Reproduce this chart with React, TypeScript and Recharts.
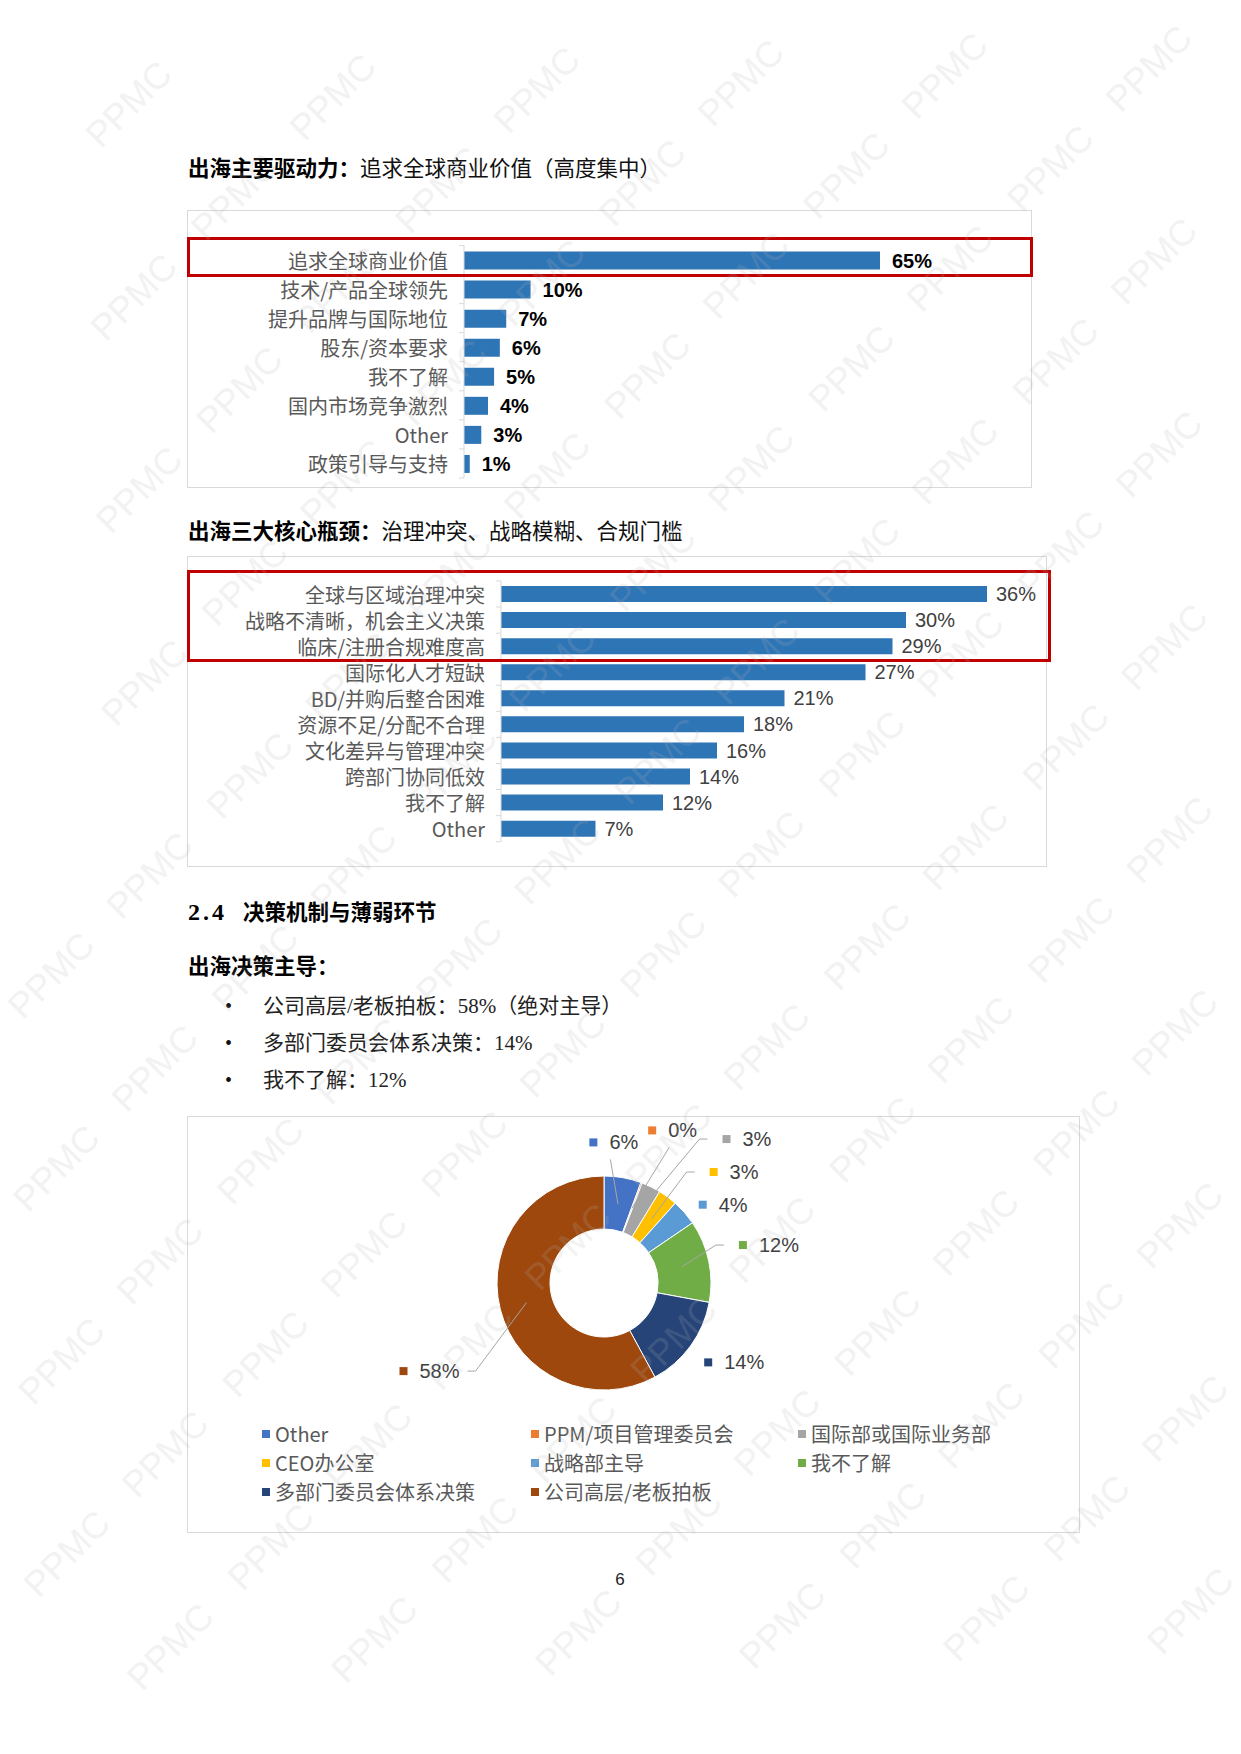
import React from 'react';
import { BarChart, Bar, XAxis, YAxis, LabelList, PieChart, Pie, Cell, Legend } from 'recharts';

// ---------- data ----------
const driverCategories = ['追求全球商业价值', '技术/产品全球领先', '提升品牌与国际地位', '股东/资本要求', '我不了解', '国内市场竞争激烈', 'Other', '政策引导与支持'];
const driverValues = [65, 10.4, 6.6, 5.6, 4.7, 3.75, 2.7, 0.9];

const bottleneckCategories = ['全球与区域治理冲突', '战略不清晰，机会主义决策', '临床/注册合规难度高', '国际化人才短缺', 'BD/并购后整合困难', '资源不足/分配不合理', '文化差异与管理冲突', '跨部门协同低效', '我不了解', 'Other'];
const bottleneckValues = [36, 30, 29, 27, 21, 18, 16, 14, 12, 7];

const deciderCategories = ['Other', 'PPM/项目管理委员会', '国际部或国际业务部', 'CEO办公室', '战略部主导', '我不了解', '多部门委员会体系决策', '公司高层/老板拍板'];
const deciderValues = [5.6, 0.2, 2.9, 2.9, 3.9, 12.4, 14.2, 57.9];
const deciderColors = ['#4472C4', '#ED7D31', '#A5A5A5', '#FFC000', '#5B9BD5', '#70AD47', '#264478', '#9E480E'];

// label placement (angle shift in degrees, radius) for donut data labels
const pieLabelSpots: [number, number][] = [[-14.4, 141], [-3, 160], [14.3, 189], [8.1, 156], [2.8, 126], [-3.4, 144], [1.3, 131], [-9.5, 219]];

const driverData = driverCategories.map((name, i) => ({ name, value: driverValues[i] }));
const bottleneckData = bottleneckCategories.map((name, i) => ({ name, value: bottleneckValues[i] }));
const deciderData = deciderCategories.map((name, i) => ({ name, value: deciderValues[i] }));

// ---------- styles ----------
const CJK = '"Noto Sans CJK SC", sans-serif';
const BODY = '"Liberation Serif", "Noto Sans CJK SC", serif';
const SANS = '"Liberation Sans", Arial, sans-serif';
const BAR_BLUE = '#2E75B6';

function makeTick(band: number, margin: number, count: number) {
  return (props: any) => {
    const { x, y, payload, index } = props;
    const ax = x + margin;
    return (
      <g>
        <text x={x} y={y} textAnchor="end" dominantBaseline="central" fontSize={20} fill="#595959" fontFamily={CJK}>
          {payload.value}
        </text>
        <line x1={ax - 5} x2={ax} y1={y - band / 2} y2={y - band / 2} stroke="#d9d9d9" strokeWidth={1} />
        {index === count - 1 && (
          <line x1={ax - 5} x2={ax} y1={y + band / 2} y2={y + band / 2} stroke="#d9d9d9" strokeWidth={1} />
        )}
      </g>
    );
  };
}

const pct = (v: any) => `${Math.round(Number(v))}%`;

const renderPieLabel = (props: any) => {
  const { cx, cy, midAngle, index, value } = props;
  const theta = 90 - midAngle;
  const [shift, r] = pieLabelSpots[index];
  const t = ((theta + shift) * Math.PI) / 180;
  const mx = cx + r * Math.sin(t);
  const my = cy - r * Math.cos(t);
  const color = deciderColors[index];
  const txt = pct(value);
  const fs = 20;
  const tw = fs * ((txt.length - 1) * 0.556 + 0.889);
  const tm = (theta * Math.PI) / 180;
  const ex = cx + 80 * Math.sin(tm);
  const ey = cy - 80 * Math.cos(tm);
  let line: React.ReactNode = null;
  if (r > 135) {
    const la = (((theta + shift) % 360) + 360) % 360;
    let pts = '';
    if (la < 30 || la > 330) {
      pts = `${mx + 17},${my + 17} ${ex},${ey}`;
    } else if (mx > cx) {
      pts = `${mx - 19},${my} ${mx - 27},${my} ${ex},${ey}`;
    } else {
      const xe = mx + 16 + tw;
      pts = `${xe + 8},${my} ${xe + 16},${my} ${ex},${ey}`;
    }
    line = <polyline points={pts} fill="none" stroke="#a6a6a6" strokeWidth={1} />;
  }
  return (
    <g>
      {line}
      <rect x={mx - 4} y={my - 4} width={8} height={8} fill={color} />
      <text x={mx + 16} y={my} dominantBaseline="central" textAnchor="start" fontSize={fs} fill="#404040" fontFamily={SANS}>
        {txt}
      </text>
    </g>
  );
};

const renderLegend = (props: any) => {
  const items = [...(props.payload || [])].sort(
    (a: any, b: any) => deciderCategories.indexOf(a.value) - deciderCategories.indexOf(b.value)
  );
  const cols = [75, 344, 611];
  return (
    <div style={{ position: 'relative', width: 893, height: 90 }}>
      {items.map((p: any, i: number) => {
        const col = i % 3;
        const row = Math.floor(i / 3);
        return (
          <div
            key={i}
            style={{
              position: 'absolute',
              left: cols[col],
              top: row * 29,
              height: 20,
              display: 'flex',
              alignItems: 'center',
              whiteSpace: 'nowrap',
            }}
          >
            <span style={{ display: 'inline-block', width: 8, height: 8, background: p.color, marginRight: 5 }} />
            <span style={{ fontSize: 20, lineHeight: '20px', color: '#595959', fontFamily: CJK }}>{p.value}</span>
          </div>
        );
      })}
    </div>
  );
};

function TextLine({ left, cy, size = 21.5, children, style }: any) {
  return (
    <div
      style={{
        position: 'absolute',
        left,
        top: cy - size / 2,
        fontSize: size,
        lineHeight: `${size}px`,
        whiteSpace: 'nowrap',
        fontFamily: BODY,
        color: '#111',
        ...style,
      }}
    >
      {children}
    </div>
  );
}

function Box({ left, top, width, height, color = '#d9d9d9', w = 1 }: any) {
  return (
    <div
      style={{
        position: 'absolute',
        left,
        top,
        width,
        height,
        boxSizing: 'border-box',
        border: `${w}px solid ${color}`,
      }}
    />
  );
}

function Watermarks() {
  const marks: React.ReactNode[] = [];
  for (let j = -1; j <= 19; j++) {
    for (let k = -1; k <= 7; k++) {
      const x = 25 + 2.6 * j + (Math.abs(j) % 2 === 1 ? 101 : 0) + 204 * k;
      const y = 12 + 96.5 * j - 0.035 * x;
      if (x < 46 || x > 1195 || y < 46 || y > 1708) continue;
      marks.push(
        <text
          key={`${j}-${k}`}
          x={x}
          y={y}
          transform={`rotate(-45 ${x} ${y})`}
          textAnchor="middle"
          dominantBaseline="central"
          fontSize={36}
          fontFamily={SANS}
          fill="#b4b4b4"
          opacity={0.17}
        >
          PPMC
        </text>
      );
    }
  }
  return (
    <svg width={1241} height={1754} style={{ position: 'absolute', left: 0, top: 0, pointerEvents: 'none' }}>
      {marks}
    </svg>
  );
}

export default function App() {
  const band1 = (278 - 35.5 - 10) / driverData.length;
  const band2 = (311 - 25 - 25.3) / bottleneckData.length;
  return (
    <div style={{ position: 'absolute', left: 0, top: 0, width: 1241, height: 1754, background: '#fff', overflow: 'hidden' }}>
      {/* Title 1 */}
      <TextLine left={188} cy={170}>
        <span style={{ fontWeight: 'bold', color: '#000' }}>出海主要驱动力：</span>
        <span>追求全球商业价值（高度集中）</span>
      </TextLine>

      {/* Chart 1 */}
      <Box left={187} top={210} width={845} height={278} />
      <div style={{ position: 'absolute', left: 187, top: 210 }}>
        <BarChart width={845} height={278} data={driverData} layout="vertical" margin={{ top: 35.5, right: 56, bottom: 10, left: 0 }}>
          <XAxis type="number" domain={[0, 80]} hide />
          <YAxis
            type="category"
            dataKey="name"
            width={277}
            axisLine={{ stroke: '#d9d9d9' }}
            tickLine={false}
            tickSize={0}
            tickMargin={16}
            interval={0}
            tick={makeTick(band1, 16, driverData.length)}
          />
          <Bar dataKey="value" fill={BAR_BLUE} barSize={18} isAnimationActive={false}>
            <LabelList dataKey="value" position="right" offset={12} formatter={pct} fill="#000" fontSize={20} fontWeight="bold" fontFamily={SANS} />
          </Bar>
        </BarChart>
      </div>
      <Box left={187} top={237} width={846} height={40} color="#C00000" w={3} />

      {/* Title 2 */}
      <TextLine left={188} cy={533}>
        <span style={{ fontWeight: 'bold', color: '#000' }}>出海三大核心瓶颈：</span>
        <span>治理冲突、战略模糊、合规门槛</span>
      </TextLine>

      {/* Chart 2 */}
      <Box left={187} top={556} width={860} height={311} />
      <div style={{ position: 'absolute', left: 187, top: 556 }}>
        <BarChart width={860} height={311} data={bottleneckData} layout="vertical" margin={{ top: 25, right: 6, bottom: 25.3, left: 0 }}>
          <XAxis type="number" domain={[0, 40]} hide />
          <YAxis
            type="category"
            dataKey="name"
            width={314}
            axisLine={{ stroke: '#d9d9d9' }}
            tickLine={false}
            tickSize={0}
            tickMargin={16}
            interval={0}
            tick={makeTick(band2, 16, bottleneckData.length)}
          />
          <Bar dataKey="value" fill={BAR_BLUE} barSize={16} isAnimationActive={false}>
            <LabelList dataKey="value" position="right" offset={9} formatter={pct} fill="#404040" fontSize={20} fontFamily={SANS} />
          </Bar>
        </BarChart>
      </div>
      <Box left={187} top={570} width={864} height={92} color="#C00000" w={3} />

      {/* Section heading */}
      <TextLine left={188} cy={913} style={{ fontWeight: 'bold', color: '#000' }}>
        <span style={{ display: 'inline-block', width: 55, fontSize: 24, letterSpacing: 3 }}>2.4</span>
        <span>决策机制与薄弱环节</span>
      </TextLine>
      <TextLine left={188} cy={968} style={{ fontWeight: 'bold', color: '#000' }}>
        出海决策主导：
      </TextLine>
      {[
        '公司高层/老板拍板：58%（绝对主导）',
        '多部门委员会体系决策：14%',
        '我不了解：12%',
      ].map((t, i) => (
        <React.Fragment key={i}>
          <TextLine left={225} cy={1006 + i * 37} size={20}>•</TextLine>
          <TextLine left={263} cy={1006 + i * 37} size={21} style={{ color: '#222' }}>
            {t}
          </TextLine>
        </React.Fragment>
      ))}

      {/* Chart 3 */}
      <Box left={187} top={1116} width={893} height={417} />
      <div style={{ position: 'absolute', left: 187, top: 1116 }}>
        <PieChart width={893} height={417} margin={{ top: 0, right: 0, bottom: 0, left: 0 }}>
          <Pie
            data={deciderData}
            dataKey="value"
            nameKey="name"
            cx={417}
            cy={167}
            innerRadius={54}
            outerRadius={107}
            startAngle={90}
            endAngle={-270}
            stroke="#ffffff"
            strokeWidth={1}
            label={renderPieLabel}
            labelLine={false}
            isAnimationActive={false}
          >
            {deciderData.map((d, i) => (
              <Cell key={d.name} fill={deciderColors[i]} />
            ))}
          </Pie>
          <Legend
            verticalAlign="bottom"
            content={renderLegend}
            wrapperStyle={{ position: 'absolute', left: 0, top: 308, bottom: 'auto', width: 893, height: 90 }}
          />
        </PieChart>
      </div>

      {/* page number */}
      <div style={{ position: 'absolute', left: 610, top: 1571, width: 20, textAlign: 'center', fontSize: 17, lineHeight: '18px', fontFamily: SANS, color: '#222' }}>
        6
      </div>

      <Watermarks />
    </div>
  );
}
